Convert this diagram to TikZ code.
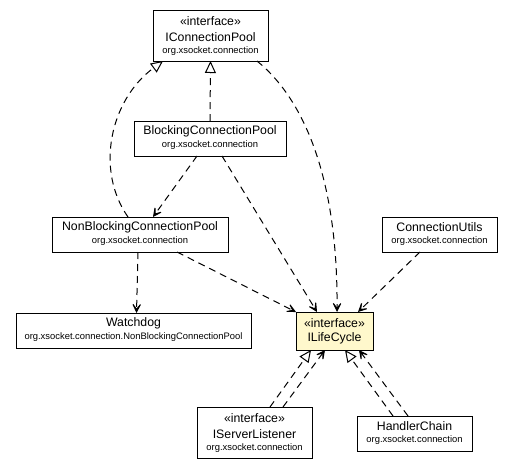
\documentclass[tikz,border=0pt]{standalone}
\usepackage{fontspec}
\setmainfont{Liberation Sans}
\usetikzlibrary{arrows.meta}
\definecolor{ifacefill}{HTML}{FFF8CC}
\begin{document}
\begin{tikzpicture}[x=1pt,y=-1pt,
  cls/.style={draw=black,line width=1pt,fill=white,inner sep=0pt,outer sep=0pt,rectangle},
  iface/.style={cls,fill=ifacefill},
  nm/.style={font=\fontsize{12.3}{14}\selectfont,inner sep=0pt},
  pk/.style={font=\fontsize{9.4}{11}\selectfont,inner sep=0pt},
  dep/.style={line width=1pt,dash pattern=on 7pt off 5pt,-{Stealth[length=13pt,width=13pt,inset=8.5pt]}},
  real/.style={line width=1pt,dash pattern=on 7pt off 5pt,-{Triangle[open,length=12pt,width=11pt,fill=white]}}]
\useasboundingbox (0,0) rectangle (513,469);

% IConnectionPool (153,10)-(268,61)
\node[cls,minimum width=115pt,minimum height=51pt] (icp) at (210.5,35.5) {};
\node[nm] (icpS) at (210.5,21) {«interface»};
\node[nm] (icpN) at (210.5,37) {IConnectionPool};
\node[pk] (icpP) at (210.5,51) {org.xsocket.connection};

% BlockingConnectionPool (134,121)-(286,156)
\node[cls,minimum width=152pt,minimum height=35pt] (bcp) at (210,138.5) {};
\node[nm] (bcpN) at (210,131) {BlockingConnectionPool};
\node[pk] (bcpP) at (210,145.5) {org.xsocket.connection};

% NonBlockingConnectionPool (52,217)-(228,252)
\node[cls,minimum width=176pt,minimum height=35pt] (nbcp) at (140,234.5) {};
\node[nm] (nbcpN) at (140,227) {NonBlockingConnectionPool};
\node[pk] (nbcpP) at (140,241.5) {org.xsocket.connection};

% ConnectionUtils (382,217)-(497,252)
\node[cls,minimum width=115pt,minimum height=35pt] (cu) at (439.5,234.5) {};
\node[nm] (cuN) at (439.5,227) {ConnectionUtils};
\node[pk] (cuP) at (439.5,241.5) {org.xsocket.connection};

% Watchdog (16,313)-(251,348)
\node[cls,minimum width=235pt,minimum height=35pt] (wd) at (133.5,330.5) {};
\node[nm] (wdN) at (133.5,323) {Watchdog};
\node[pk] (wdP) at (133.5,337.5) {org.xsocket.connection.NonBlockingConnectionPool};

% ILifeCycle (296,312)-(373,350)
\node[iface,minimum width=77pt,minimum height=38pt] (ilc) at (334.5,331) {};
\node[nm] (ilcS) at (334.5,323) {«interface»};
\node[nm] (ilcN) at (334.5,338) {ILifeCycle};

% IServerListener (197,407)-(312,458)
\node[cls,minimum width=115pt,minimum height=51pt] (isl) at (254.5,432.5) {};
\node[nm] (islS) at (254.5,418) {«interface»};
\node[nm] (islN) at (254.5,434) {IServerListener};
\node[pk] (islP) at (254.5,448) {org.xsocket.connection};

% HandlerChain (357,416)-(472,451)
\node[cls,minimum width=115pt,minimum height=35pt] (hc) at (414.5,433.5) {};
\node[nm] (hcN) at (414.5,426) {HandlerChain};
\node[pk] (hcP) at (414.5,440.5) {org.xsocket.connection};

% connectors
\draw[real] ([xshift=-12pt]nbcp.north) .. controls (95,170) and (110,100) .. ([xshift=-47.5pt]icp.south);
\draw[real] (bcp.north) -- (icp.south);
\draw[dep] ([xshift=46.5pt]icp.south) .. controls (305,100) and (338,180) .. ([xshift=2.5pt]ilc.north);
\draw[dep] ([xshift=-13pt]bcp.south) -- ([xshift=13pt]nbcp.north);
\draw[dep] ([xshift=12pt]bcp.south) -- ([xshift=-17.5pt]ilc.north);
\draw[dep] ([xshift=-2pt]nbcp.south) -- ([xshift=3pt]wd.north);
\draw[dep] ([xshift=37pt]nbcp.south) -- (ilc.north west);
\draw[dep] ([xshift=-19.5pt]cu.south) -- ([xshift=23.5pt]ilc.north);
\draw[real] ([xshift=15.5pt]isl.north) -- ([xshift=-23.5pt]ilc.south);
\draw[dep] ([xshift=28.5pt]isl.north) -- ([xshift=-9.5pt]ilc.south);
\draw[real] ([xshift=-21.5pt]hc.north) -- ([xshift=10.5pt]ilc.south);
\draw[dep] ([xshift=-6.5pt]hc.north) -- ([xshift=24.5pt]ilc.south);
\end{tikzpicture}
\end{document}
